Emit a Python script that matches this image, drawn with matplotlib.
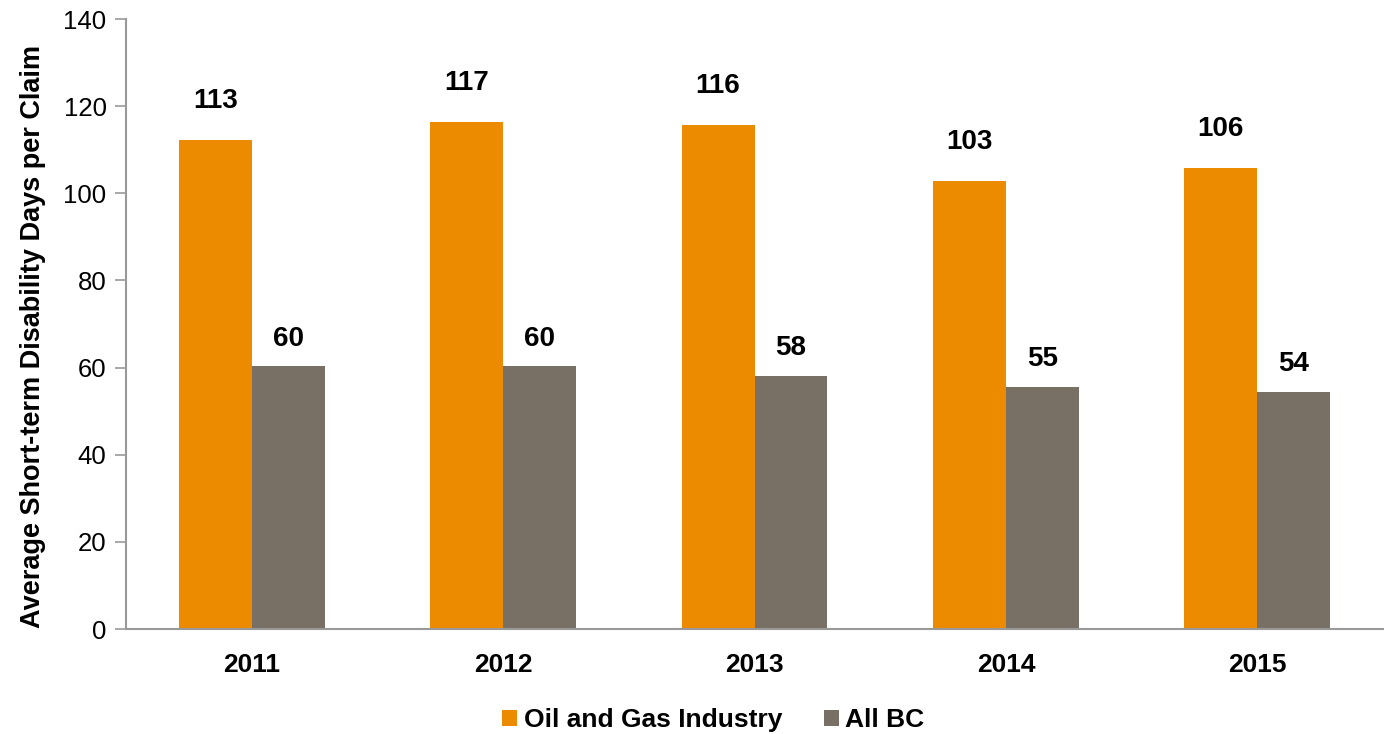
import matplotlib
matplotlib.use("Agg")
import matplotlib.pyplot as plt
import numpy as np

plt.rcParams['font.family'] = ['Liberation Sans', 'DejaVu Sans']

years = ['2011', '2012', '2013', '2014', '2015']
oil_gas = [112.3, 116.4, 115.7, 102.9, 105.8]
all_bc = [60.3, 60.3, 58.1, 55.5, 54.5]
oil_gas_labels = ['113', '117', '116', '103', '106']
all_bc_labels = ['60', '60', '58', '55', '54']

orange = '#EC8B00'
grey = '#787064'

fig = plt.figure(figsize=(13.88, 7.34), dpi=100)
ax = fig.add_axes([0.0908, 0.143, 0.9056, 0.831])

x = np.arange(len(years))
w = 0.29
ax.bar(x - w / 2, oil_gas, w, color=orange, label='Oil and Gas Industry')
ax.bar(x + w / 2, all_bc, w, color=grey, label='All BC')

for xi, v, t in zip(x, oil_gas, oil_gas_labels):
    ax.text(xi - w / 2, v + 6.0, t, ha='center', va='bottom', fontsize=20, fontweight='bold')
for xi, v, t in zip(x, all_bc, all_bc_labels):
    ax.text(xi + w / 2, v + 3.4, t, ha='center', va='bottom', fontsize=20, fontweight='bold')

ax.set_xlim(-0.5, len(years) - 0.5)
ax.set_ylim(0, 140)
ax.set_yticks(range(0, 141, 20))
ax.set_xticks(x)
ax.set_xticklabels(years, fontsize=19, fontweight='bold')
ax.tick_params(axis='x', length=0, pad=17)
ax.tick_params(axis='y', labelsize=18.5, length=8, color='#999999', width=1.2, pad=6)

for s in ['top', 'right']:
    ax.spines[s].set_visible(False)
for s in ['left', 'bottom']:
    ax.spines[s].set_color('#999999')
    ax.spines[s].set_linewidth(1.5)

ax.set_ylabel('Average Short-term Disability Days per Claim', fontsize=19.5, fontweight='bold')
ax.yaxis.set_label_coords(-0.0635, 0.479)

leg = fig.legend(loc='lower center', bbox_to_anchor=(0.514, -0.03), ncol=2, frameon=False,
                 prop={'size': 19, 'weight': 'bold'}, handlelength=0.55, handleheight=0.55,
                 handletextpad=0.25, columnspacing=1.6)

fig.savefig('out.png', dpi=100)
